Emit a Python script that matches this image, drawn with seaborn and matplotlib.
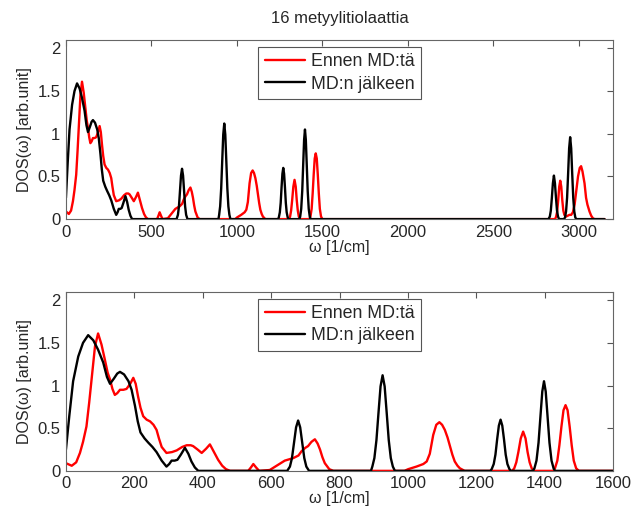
import numpy as np
import matplotlib.pyplot as plt
import seaborn as sns

# DOS curves (omega in 1/cm, DOS in arb. units)
omega_before = [0, 17, 30, 41, 50, 60, 68, 75, 85, 94, 104, 114, 122, 129, 136, 143, 150, 158,
                168, 177, 188, 197, 204, 211, 218, 226, 236, 246, 256, 265, 272, 280, 294, 310,
                324, 340, 353, 365, 372, 385, 397, 410, 421, 433, 445, 457, 468, 480, 533, 541,
                548, 556, 565, 596, 616, 640, 665, 680, 689, 700, 708, 718, 728, 736, 743, 750,
                757, 770, 782, 990, 1001, 1025, 1045, 1055, 1064, 1074, 1083, 1092, 1100, 1108,
                1116, 1123, 1130, 1137, 1145, 1152, 1166, 1305, 1311, 1317, 1323, 1330, 1337,
                1344, 1350, 1356, 1362, 1370, 1425, 1430, 1437, 1443, 1449, 1455, 1461, 1467,
                1473, 1479, 1485, 1492, 1500, 2828, 2861, 2867, 2873, 2879, 2885, 2891, 2897,
                2903, 2909, 2915, 2925, 2935, 2945, 2955, 2965, 2975, 2985, 2995, 3005, 3013,
                3021, 3033, 3042, 3050, 3062, 3072, 3082, 3092, 3150]
dos_before = [0.09, 0.06, 0.10, 0.21, 0.34, 0.52, 0.80, 1.07, 1.46, 1.61, 1.48, 1.30, 1.15, 1.07,
              0.96, 0.89, 0.91, 0.95, 0.95, 0.96, 1.02, 1.09, 1.02, 0.87, 0.74, 0.64, 0.60, 0.58,
              0.54, 0.48, 0.38, 0.28, 0.21, 0.22, 0.24, 0.28, 0.30, 0.30, 0.29, 0.25, 0.21, 0.26,
              0.31, 0.22, 0.13, 0.06, 0.02, 0.0, 0.0, 0.04, 0.08, 0.04, 0.0, 0.01, 0.06, 0.12,
              0.15, 0.18, 0.23, 0.27, 0.29, 0.34, 0.37, 0.32, 0.25, 0.16, 0.09, 0.02, 0.0, 0.0,
              0.02, 0.05, 0.08, 0.11, 0.20, 0.42, 0.54, 0.57, 0.54, 0.48, 0.39, 0.29, 0.19, 0.11,
              0.06, 0.03, 0.0, 0.0, 0.03, 0.10, 0.22, 0.38, 0.46, 0.38, 0.22, 0.10, 0.03, 0.0,
              0.0, 0.03, 0.12, 0.30, 0.52, 0.71, 0.77, 0.71, 0.52, 0.30, 0.12, 0.03, 0.0, 0.0,
              0.0, 0.03, 0.09, 0.22, 0.38, 0.45, 0.38, 0.22, 0.10, 0.05, 0.03, 0.04, 0.05, 0.05,
              0.08, 0.17, 0.33, 0.50, 0.60, 0.62, 0.56, 0.42, 0.25, 0.17, 0.09, 0.04, 0.01, 0.0,
              0.0]

omega_after = [0, 10, 21, 36, 50, 65, 80, 94, 109, 120, 129, 140, 150, 158, 170, 183, 192, 202,
               210, 218, 230, 241, 253, 265, 280, 294, 302, 309, 318, 326, 336, 348, 358, 367,
               377, 387, 647, 655, 661, 667, 673, 679, 685, 691, 697, 703, 711, 892, 896, 902,
               908, 914, 920, 926, 932, 938, 944, 950, 956, 962, 1241, 1245, 1251, 1256, 1261,
               1266, 1271, 1276, 1281, 1286, 1291, 1297, 1301, 1366, 1370, 1376, 1382, 1388,
               1393, 1398, 1403, 1408, 1414, 1420, 1426, 1430, 2822, 2830, 2836, 2842, 2848,
               2854, 2860, 2866, 2872, 2878, 2884, 2913, 2919, 2925, 2931, 2937, 2943, 2949,
               2955, 2961, 2967, 2973, 2979, 2985, 3150]
dos_after = [0.25, 0.65, 1.05, 1.34, 1.50, 1.59, 1.53, 1.42, 1.27, 1.10, 1.02, 1.08, 1.14, 1.16,
             1.13, 1.05, 0.95, 0.76, 0.58, 0.45, 0.38, 0.33, 0.28, 0.22, 0.12, 0.05, 0.08, 0.12,
             0.12, 0.13, 0.19, 0.27, 0.20, 0.11, 0.04, 0.0, 0.0, 0.05, 0.15, 0.33, 0.51, 0.59,
             0.51, 0.33, 0.15, 0.05, 0.0, 0.0, 0.05, 0.15, 0.36, 0.68, 0.99, 1.12, 0.99, 0.68,
             0.36, 0.15, 0.05, 0.0, 0.0, 0.02, 0.08, 0.19, 0.37, 0.53, 0.60, 0.53, 0.37, 0.19,
             0.08, 0.02, 0.0, 0.0, 0.03, 0.12, 0.33, 0.66, 0.93, 1.05, 0.93, 0.66, 0.33, 0.12,
             0.03, 0.0, 0.0, 0.03, 0.10, 0.25, 0.42, 0.51, 0.42, 0.25, 0.10, 0.03, 0.0, 0.0,
             0.02, 0.09, 0.25, 0.53, 0.83, 0.96, 0.83, 0.53, 0.25, 0.09, 0.02, 0.0, 0.0]

labels = ['Ennen MD:tä', 'MD:n jälkeen']
title = '16 metyylitiolaattia'
xlims = [3200, 1600]
xticks_top = [0, 500, 1000, 1500, 2000, 2500, 3000]
xticks_bottom = [0, 200, 400, 600, 800, 1000, 1200, 1400, 1600]
yticks = [0, 0.5, 1, 1.5, 2]
ytick_labels = ['0', '0.5', '1', '1.5', '2']

sns.set_style('white')
plt.rcParams['font.family'] = ['Liberation Sans', 'DejaVu Sans']
plt.rcParams['font.size'] = 11.5

fig = plt.figure(figsize=(6.34, 5.18), dpi=100)
ax1 = fig.add_axes([0.104, 0.577, 0.863, 0.346])
ax2 = fig.add_axes([0.104, 0.091, 0.863, 0.346])

for ax, xmax, xticks in [(ax1, xlims[0], xticks_top), (ax2, xlims[1], xticks_bottom)]:
    sns.lineplot(x=omega_before, y=dos_before, color='#ff0000', lw=1.7, label=labels[0],
                 ax=ax, estimator=None, sort=False)
    sns.lineplot(x=omega_after, y=dos_after, color='black', lw=1.7, label=labels[1],
                 ax=ax, estimator=None, sort=False)
    ax.set_xlim(0, xmax)
    ax.set_ylim(0, 2.1)
    ax.set_xticks(xticks)
    ax.set_yticks(yticks)
    ax.set_yticklabels(ytick_labels)
    ax.set_xlabel('ω [1/cm]', labelpad=0)
    ax.set_ylabel('DOS(ω) [arb.unit]', labelpad=4)
    ax.tick_params(direction='in', length=4, width=0.8, color='#555555', top=True, right=True,
                   labelsize=12, pad=4)
    for s in ax.spines.values():
        s.set_color('#666666')
        s.set_linewidth(0.8)
    leg = ax.legend(loc='upper center', frameon=True, fancybox=False, framealpha=1,
                    edgecolor='#555555', handlelength=2.3, handletextpad=0.3,
                    borderaxespad=0.4, borderpad=0.35, labelspacing=0.3, fontsize=12.8)
    leg.get_frame().set_linewidth(0.8)

ax1.set_title(title, fontsize=12, pad=12)

plt.savefig('out.png', dpi=100)
